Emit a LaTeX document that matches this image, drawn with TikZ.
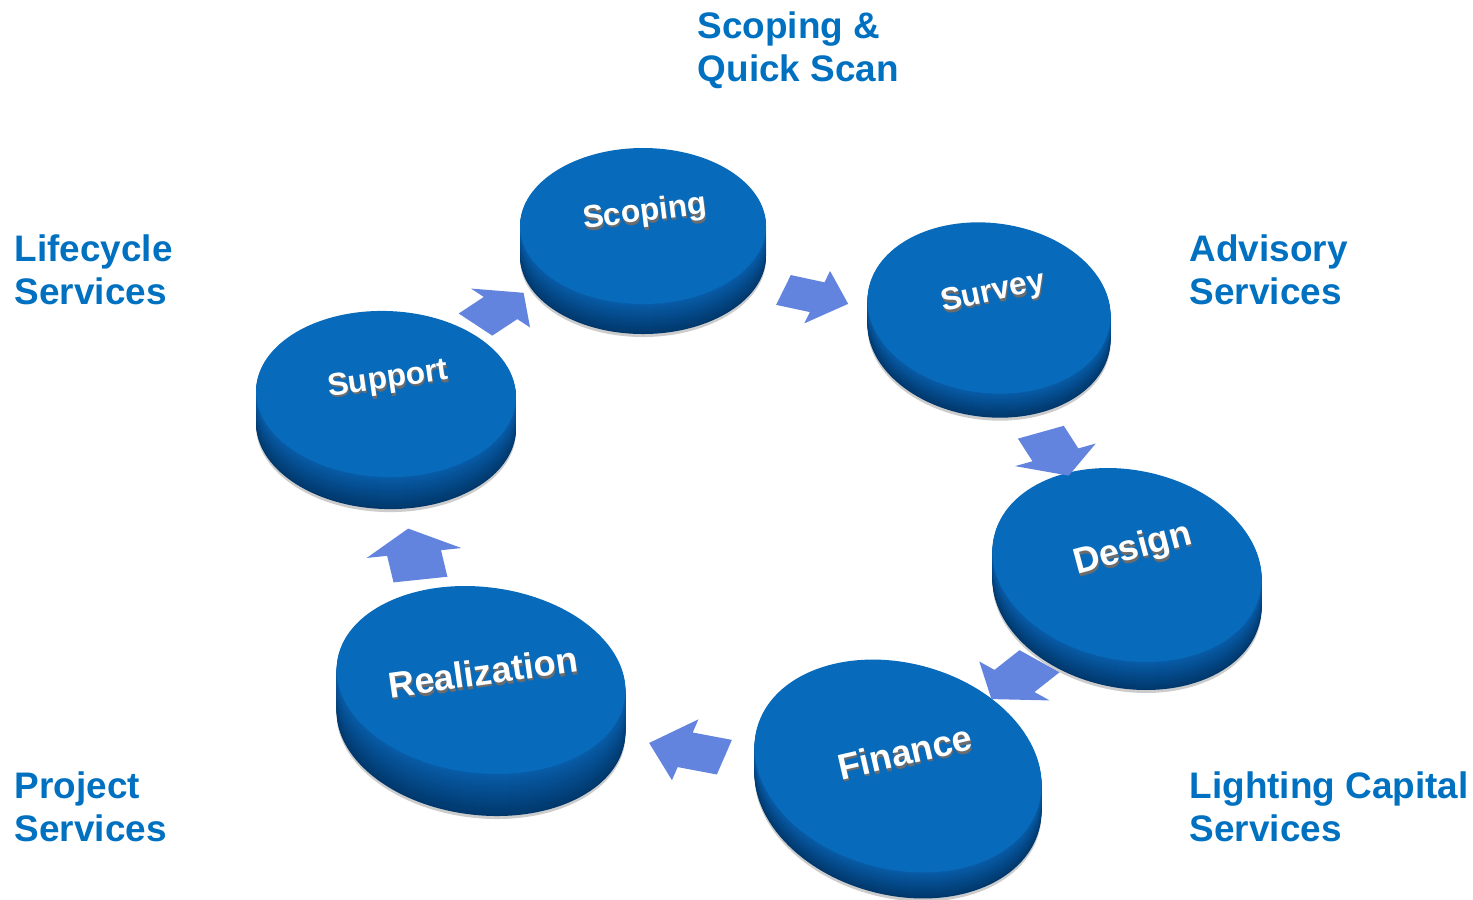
\documentclass[tikz,border=0pt]{standalone}
\usepackage{fontspec}
\setmainfont{Liberation Sans}
\usepackage{xcolor}
\usetikzlibrary{shapes.arrows}
\definecolor{labelblue}{RGB}{0,112,192}
\definecolor{arrowblue}{RGB}{98,132,222}
\definecolor{discface}{RGB}{8,106,186}
\definecolor{discside}{RGB}{8,92,168}
\definecolor{discbot}{RGB}{0,56,108}
\tikzset{
    label_text/.style={anchor=north west, inner sep=0pt, align=left, text=labelblue,
        font=\fontsize{10.5}{12.2}\selectfont\bfseries},
    step_arrow/.style={single arrow, fill=arrowblue, draw=none, inner xsep=0pt,
        inner ysep=0.23cm, minimum height=0.68cm, single arrow head extend=0.18cm,
        single arrow tip angle=104, transform shape},
    disc_text/.style={text=white, inner sep=0pt},
    disc_shadow/.style={text=gray!85!black, inner sep=0pt}
}

\begin{document}
\begin{tikzpicture}[x=0.01cm, y=-0.01cm]
    \useasboundingbox (0,0) rectangle (1473,899);
    % Discs, back to front
    \foreach \n/\x/\y/\rx/\ry/\t/\tilt in {scoping/643/226/123/78/30/0,
        survey/989/308/122/85/24/-7, support/386/394/130/83/32/-2,
        design/1127/565/136/95/28/-11.5, realization/481/680/145/93/42/-7,
        finance/898/766/146/103/26/-15}{
        \fill[gray!40, rotate around={\tilt:(\x,\y+\t+3)}] (\x,\y+\t+3) ellipse [x radius=\rx, y radius=\ry];
        \foreach \k in {\t,...,1}{
            \pgfmathtruncatemacro\mix{100*\k/\t}
            \fill[discbot!\mix!discside, rotate around={\tilt:(\x,\y+\k)}] (\x,\y+\k) ellipse [x radius=\rx, y radius=\ry];
        }
        \fill[discface, rotate around={\tilt:(\x,\y)}] (\x,\y) ellipse [x radius=\rx, y radius=\ry];
        \coordinate (\n) at (\x,\y);
    }
    % Disc texts
    \foreach \n/\txt/\x/\y/\r/\fs in {scoping/Scoping/645/213/7/9, survey/Survey/993/293/12/9,
        support/Support/388/380/8/9, design/Design/1133/550/15/10.3,
        finance/Finance/905/752/13/10.3, realization/Realization/483/672/8/10.3}{
        \node[disc_shadow, rotate=\r, font=\fontsize{\fs}{\fs}\selectfont\bfseries] (\n-sh) at (\x+1,\y+2.5) {\txt};
        \node[disc_text, rotate=\r, font=\fontsize{\fs}{\fs}\selectfont\bfseries] (\n-txt) at (\x,\y) {\txt};
    }
    % Arrows between the steps
    \foreach \n/\x/\y/\a/\s in {a1/493/313/45/1.0, a2/807/295/-18/1.0, a3/1051/448/-67/1.05,
        a4/1022/675/230/1.1, a5/697/752/164/1.15, a6/416/561/99/1.15}{
        \begin{scope}[shift={(\x,\y)}, yscale=0.66]
            \node[step_arrow, rotate=\a, scale=\s] (\n) {};
        \end{scope}
    }
    % Service labels
    \node[label_text] (lbl-scoping) at (697,11) {Scoping \&\\Quick Scan};
    \node[label_text] (lbl-lifecycle) at (14,234) {Lifecycle\\Services};
    \node[label_text] (lbl-advisory) at (1189,234) {Advisory\\Services};
    \node[label_text] (lbl-project) at (14,771) {Project\\Services};
    \node[label_text] (lbl-lighting) at (1189,771) {Lighting Capital\\Services};
\end{tikzpicture}
\end{document}
